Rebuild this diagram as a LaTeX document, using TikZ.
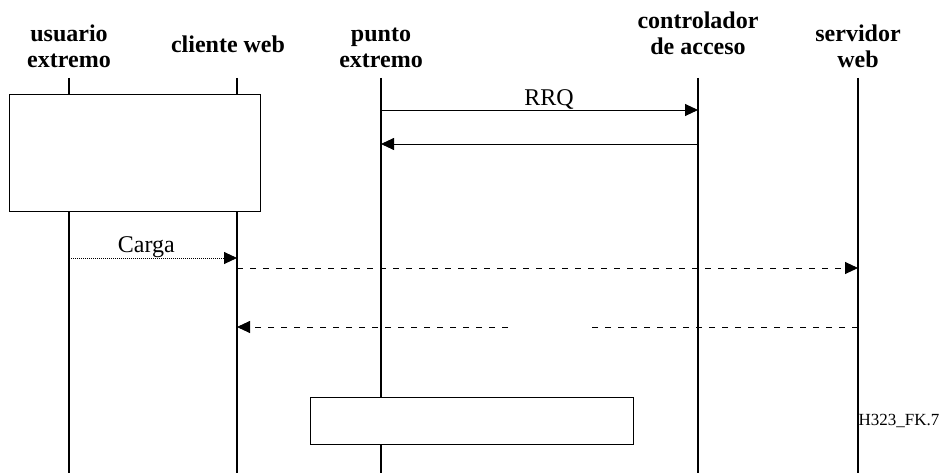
\documentclass[tikz,border=0pt]{standalone}
\usepackage{fontspec}
\setmainfont{Liberation Serif}
\usetikzlibrary{arrows.meta, positioning}

\tikzset{
    actor/.style={font=\fontsize{24}{26}\selectfont\bfseries, align=center, anchor=base, inner sep=0pt},
    lifeline/.style={line width=1.1pt},
    msg/.style={->, line width=0.9pt},
    reply/.style={msg, dash pattern=on 6pt off 7pt},
    load/.style={msg, dash pattern=on 1pt off 1pt},
    block/.style={draw, fill=white, line width=1.1pt, anchor=north west, inner sep=0pt},
    lbl/.style={font=\fontsize{24}{26}\selectfont, inner sep=0pt}
}

\begin{document}
\begin{tikzpicture}[x=1pt, y=-1pt, >={Triangle[length=13pt, width=12pt]}]
    \useasboundingbox (0,0) rectangle (949,473);
    % participants
    \node[actor] (user) at (69,68) {usuario\\extremo};
    \node[actor] (client) at (228,53) {cliente web};
    \node[actor] (ep) at (381,68) {punto\\extremo};
    \node[actor] (gk) at (698,55) {controlador\\de acceso};
    \node[actor] (srv) at (858,68) {servidor\\web};
    % lifelines
    \foreach \n/\x in {user/69, client/237, ep/381, gk/698, srv/858} {
        \coordinate (\n T) at (\x,78);
        \coordinate (\n B) at (\x,473);
        \draw[lifeline] (\n T) -- (\n B);
    }
    % boxes
    \node[block, minimum width=251pt, minimum height=117pt] (box1) at (9,94) {};
    \node[block, minimum width=323pt, minimum height=47pt] (box2) at (310,397) {};
    % messages
    \draw[msg] (epT |- 0,110) -- node[lbl, above=0pt, pos=0.53] (rrq) {RRQ} (gkT |- 0,110);
    \draw[msg] (gkT |- 0,144) -- (epT |- 0,144);
    \draw[load] (userT |- 0,258) -- node[lbl, above=0pt, pos=0.46] (carga) {Carga} (clientT |- 0,258);
    \draw[reply] (clientT |- 0,268) -- (srvT |- 0,268);
    \coordinate (gapR) at (590,327);
    \coordinate (gapL) at (508,327);
    \draw[reply, -] (srvT |- 0,327) -- (gapR);
    \draw[reply] (gapL) -- (clientT |- 0,327);
    \node[font=\fontsize{17}{19}\selectfont, inner sep=0pt] (fig) at (899,421) {H323\_FK.7};
\end{tikzpicture}
\end{document}
